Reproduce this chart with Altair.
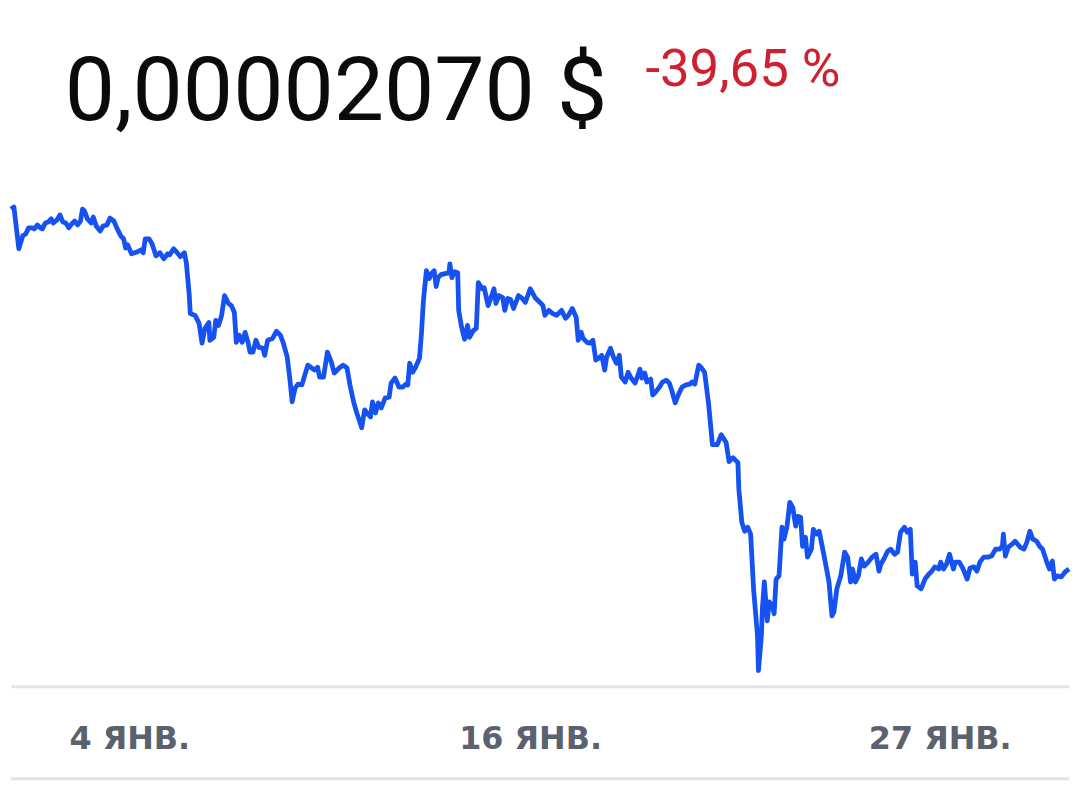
import altair as alt
import pandas as pd

# ---------------- data ----------------
# sample times: minutes after 2022-01-01 09:00 (local); prices in units of 1e-8 USD
start = pd.Timestamp("2022-01-01 09:00")

minutes = [
    0, 120, 320, 480, 600, 720, 880, 960, 1080, 1200, 1280, 1400, 1520, 1640, 1720, 1880, 2000, 2120, 2240, 2360,
    2480, 2600, 2720, 2840, 2920, 3000, 3120, 3280, 3360, 3480, 3640, 3760, 3920, 4040, 4200, 4320, 4480, 4600, 4680, 4760,
    4920, 5040, 5160, 5320, 5400, 5480, 5640, 5760, 5920, 6080, 6240, 6400, 6480, 6640, 6760, 6920, 7080, 7160,
    7280, 7320, 7520, 7680, 7800, 7920, 8080, 8120, 8280, 8360, 8480, 8600, 8720, 8880, 9000, 9120, 9200, 9320, 9440, 9560,
    9680, 9760, 9880, 10000, 10120, 10280, 10360, 10480, 10680, 10840, 11000, 11120, 11280, 11400, 11480, 11600, 11720, 11880, 11960, 12120,
    12280, 12400, 12520, 12600, 12760, 12920, 13080, 13200, 13400, 13560, 13720, 13840, 14000,
    14120, 14320, 14440, 14600, 14680, 14760, 14880, 15000, 15120, 15280, 15440, 15520, 15680, 15840, 16000, 16120, 16200, 16280, 16400, 16520,
    16680, 16760, 16840, 16960, 17080, 17160, 17280, 17360, 17440, 17560, 17720, 17880, 17920, 18000, 18120, 18240, 18280, 18400, 18520, 18640,
    18720, 18880, 19000, 19080, 19240, 19320, 19480, 19600, 19720, 19800, 19920, 20080, 20160, 20280, 20400, 20520, 20720, 20880, 21000, 21200,
    21400,
    21600, 21720, 21800, 21960, 22120, 22280, 22480, 22640, 22760, 22920, 23080, 23160, 23280, 23360, 23520, 23640, 23760, 23880, 24000, 24120,
    24240, 24320, 24480, 24600, 24720, 24840, 24920, 25080, 25200, 25320, 25480, 25600, 25680, 25760, 25880, 25960, 26120, 26200, 26320, 26480,
    26600, 26760, 26880, 27000, 27120, 27280, 27400, 27560, 27720, 27800, 27920, 28080, 28200, 28320, 28480, 28640,
    28840, 29000, 29200, 29320, 29480, 29680, 29720, 29840, 29960, 30080, 30200, 30320, 30480, 30520, 30640, 30680, 30760, 30880, 30960, 31080,
    31160, 31240, 31360, 31480, 31560, 31680, 31800, 31920, 32040, 32120, 32240, 32320, 32440, 32520, 32680, 32760, 32880, 33000, 33200, 33400,
    33520, 33600, 33720, 33880, 34040, 34160, 34280, 34360, 34480, 34600, 34720, 34840,
    35000, 35160, 35320, 35440, 35520, 35640, 35800, 35920, 36080, 36200, 36320, 36480, 36600, 36720, 36800, 36920, 37000, 37160, 37320, 37480,
    37600, 37720, 37880, 37960, 38080, 38200, 38320, 38480, 38560, 38720, 38880, 39040, 39160, 39320, 39440, 39560, 39720, 39880, 40040, 40200,
    40360, 40480, 40520, 40600, 40720, 40880, 41000, 41200, 41360, 41480, 41600, 41720, 41880, 42000, 42120, 42280, 42400, 42520, 42600, 42720,
    42880, 43040, 43200,
]

price_e8 = [
    3431, 3439, 3281, 3330, 3337, 3360, 3360, 3356, 3371, 3360, 3356, 3378, 3382, 3394, 3378, 3390, 3409, 3382, 3378, 3360,
    3375, 3386, 3371, 3386, 3431, 3424, 3394, 3378, 3401, 3367, 3348, 3367, 3371, 3397, 3386, 3360, 3330, 3318, 3284, 3296,
    3262, 3266, 3269, 3277, 3266, 3318, 3318, 3300, 3254, 3266, 3243, 3262, 3258, 3281, 3269, 3251, 3266, 3228,
    3104, 3036, 3029, 2999, 2924, 2980, 3002, 2935, 2946, 3010, 2991, 3029, 3104, 3074, 3066, 3040, 2927, 2954, 2927, 2965,
    2927, 2890, 2890, 2935, 2908, 2905, 2878, 2935, 2942, 2969, 2954, 2924, 2871, 2777, 2702, 2754, 2769, 2766, 2792, 2841,
    2830, 2822, 2833, 2796, 2796, 2890, 2852, 2811, 2830, 2841, 2830, 2766, 2698,
    2660, 2604, 2672, 2653, 2645, 2702, 2660, 2698, 2679, 2717, 2720, 2773, 2792, 2758, 2758, 2769, 2766, 2848, 2814, 2833,
    2867, 2961, 3085, 3198, 3168, 3187, 3198, 3138, 3172, 3183, 3187, 3190, 3224, 3172, 3194, 3190, 3048, 2984, 2939, 2991,
    2946, 2972, 2980, 3153, 3130, 3134, 3066, 3096, 3130, 3074, 3104, 3096, 3048, 3093, 3089, 3055, 3104, 3093, 3078, 3130,
    3096,
    3078, 3066, 3029, 3048, 3036, 3029, 3048, 3018, 3029, 3055, 3021, 2935, 2965, 2942, 2927, 2924, 2935, 2860, 2867, 2878,
    2822, 2871, 2905, 2871, 2848, 2878, 2796, 2777, 2814, 2792, 2773, 2803, 2826, 2792, 2811, 2777, 2788, 2728, 2739, 2758,
    2777, 2784, 2773, 2739, 2698, 2736, 2758, 2766, 2769, 2777, 2769, 2841, 2830, 2814, 2698, 2540,
    2540, 2578, 2548, 2476, 2491, 2472, 2371, 2247, 2213, 2228, 2202, 1995, 1818, 1686, 1818, 1920, 2021, 1874, 1946, 1931,
    1901, 2032, 2044, 2228, 2183, 2228, 2322, 2303, 2232, 2269, 2266, 2156, 2190, 2115, 2145, 2220, 2202, 2213, 2119, 2021,
    1893, 1908, 1995, 2044, 2134, 2115, 2021, 2070, 2021, 2044, 2108, 2081,
    2096, 2115, 2126, 2062, 2089, 2108, 2138, 2145, 2126, 2134, 2209, 2228, 2209, 2220, 2051, 2096, 2006, 1995, 2032, 2051,
    2062, 2078, 2070, 2096, 2070, 2089, 2126, 2070, 2096, 2096, 2070, 2032, 2074, 2078, 2062, 2096, 2115, 2115, 2119, 2145,
    2145, 2156, 2202, 2119, 2153, 2164, 2175, 2153, 2145, 2172, 2213, 2183, 2175, 2156, 2145, 2100, 2070, 2100, 2032, 2044,
    2040, 2059, 2070,
]

header_price = ["0,00002070 $"]
header_change = ["-39,65 %"]
month_label = "ЯНВ."
tick_days = [(4, 17, 30), (16, 2, 15), (27, 17, 0)]  # day, hour, minute of the axis labels

# ---------------- build ----------------
df = pd.DataFrame({
    "time": start + pd.to_timedelta(minutes, unit="min"),
    "price": [v * 1e-8 for v in price_e8],
})

W, H = 1064, 680
BLUE = "#1652f0"
GREY_LINE = "#e3e4e6"

x_scale = alt.Scale(
    domain=[alt.DateTime(year=2022, month=1, date=1, hours=9),
            alt.DateTime(year=2022, month=1, date=31, hours=9)],
)
tick_values = [alt.DateTime(year=2022, month=1, date=d, hours=h, minutes=m) for d, h, m in tick_days]

line = alt.Chart(df).mark_line(color=BLUE, strokeWidth=4.8, strokeJoin="round").encode(
    x=alt.X("time:T", scale=x_scale,
            axis=alt.Axis(values=tick_values, title=None, grid=False, ticks=False, tickSize=0,
                          domain=True, domainColor=GREY_LINE, domainWidth=3,
                          labelExpr="timeFormat(datum.value, '%-d') + ' " + month_label + "'",
                          labelFont="DejaVu Sans", labelFontSize=32, labelFontWeight="bold",
                          labelColor="#5b616e", labelPadding=62, labelBaseline="alphabetic",
                          labelAlign="center", labelFlush=False, labelOverlap=False)),
    y=alt.Y("price:Q", scale=alt.Scale(domain=[1626.3e-8, 4183.1e-8], zero=False, nice=False), axis=None),
)

price_text = alt.Chart(pd.DataFrame({"t": header_price})).mark_text(
    font="Roboto", fontSize=90, fontWeight=400, color="#0a0b0d", align="left", baseline="alphabetic"
).encode(text="t:N", x=alt.value(54), y=alt.value(110))

change_text = alt.Chart(pd.DataFrame({"t": header_change})).mark_text(
    font="Roboto", fontSize=53, fontWeight=400, color="#cf202f", align="left", baseline="alphabetic"
).encode(text="t:N", x=alt.value(638), y=alt.value(76))

bottom_rule = alt.Chart(pd.DataFrame({"r": [0]})).mark_rule(color=GREY_LINE, strokeWidth=3).encode(
    x=alt.value(0), x2=alt.value(W), y=alt.value(773)
)

chart = alt.layer(line, price_text, change_text, bottom_rule).properties(
    width=W, height=H, padding=0, background="white"
).configure_view(stroke=None)

chart.save("out.html", embed_options={"renderer": "svg", "actions": False})
